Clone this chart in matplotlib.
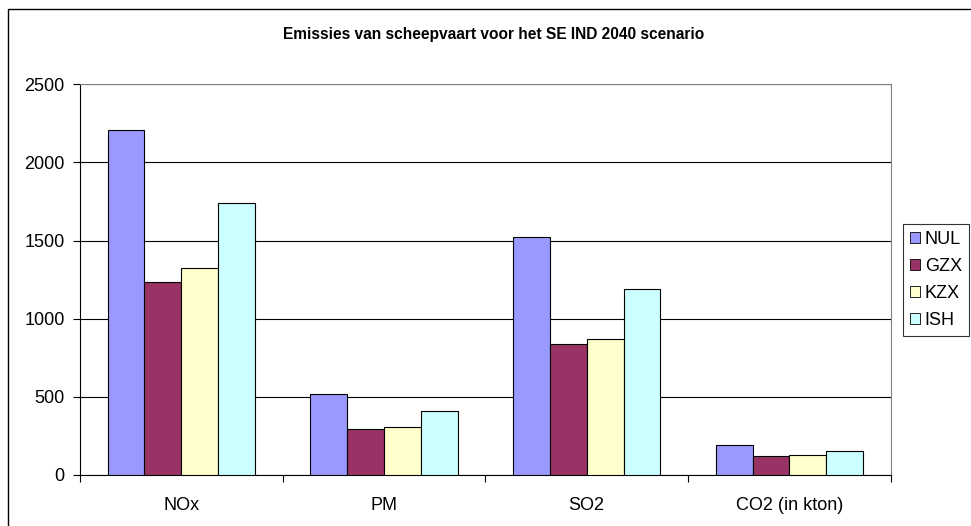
import matplotlib
matplotlib.use("Agg")
import matplotlib.pyplot as plt
from matplotlib.patches import Rectangle
import numpy as np

plt.rcParams['font.family'] = ['Liberation Sans', 'DejaVu Sans']

# Emissions per pollutant and scenario variant
categories = ["NOx", "PM", "SO2", "CO2 (in kton)"]
series_names = ["NUL", "GZX", "KZX", "ISH"]
nul = [2210, 520, 1525, 192]
gzx = [1236, 292, 838, 121]
kzx = [1323, 305, 868, 128]
ish = [1741, 411, 1190, 155]
y_ticks = [0, 500, 1000, 1500, 2000, 2500]

series_values = [nul, gzx, kzx, ish]
colors = ["#9999FF", "#993366", "#FFFFCC", "#CCFFFF"]

W, H = 971, 526
fig = plt.figure(figsize=(W / 100, H / 100), dpi=100)

# outer chart frame
fig.patches.append(Rectangle((8 / W, -0.1), 1.2, 1 - 9 / H + 0.1,
                             transform=fig.transFigure, fill=False,
                             edgecolor="black", linewidth=1.0))

left, right, top, bottom = 80, 890.7, 84.4, 474.7
ax = fig.add_axes([left / W, 1 - bottom / H, (right - left) / W, (bottom - top) / H])

n = len(series_names)
bw = 1.0 / (n + 1.5)
x = np.arange(len(categories))
for i, (name, vals, c) in enumerate(zip(series_names, series_values, colors)):
    offs = -0.5 + 0.75 * bw + i * bw
    ax.bar(x + offs, vals, width=bw, align="edge", color=c,
           edgecolor="black", linewidth=0.8, label=name, zorder=3)

ax.set_xlim(-0.5, len(categories) - 0.5)
ax.set_ylim(0, 2500)
ax.set_yticks(y_ticks)
ax.set_yticklabels([str(v) for v in y_ticks])
ax.yaxis.grid(True, color="black", linewidth=0.8, zorder=0)
ax.set_axisbelow(True)

# category boundaries as tick marks, labels centered between them
ax.set_xticks(np.arange(len(categories) + 1) - 0.5)
ax.set_xticklabels([])
ax.set_xticks(x, minor=True)
ax.set_xticklabels(categories, minor=True)
ax.tick_params(axis="x", which="major", length=5, width=0.8, direction="out")
ax.tick_params(axis="x", which="minor", length=0, pad=16, labelsize=13)
ax.tick_params(axis="y", length=5, width=0.8, pad=6, labelsize=13)

for s in ["left", "bottom"]:
    ax.spines[s].set_color("black")
    ax.spines[s].set_linewidth(0.8)
for s in ["top", "right"]:
    ax.spines[s].set_color("#808080")
    ax.spines[s].set_linewidth(0.8)

fig.text(494 / W, 1 - 35 / H, "Emissies van scheepvaart voor het SE IND 2040 scenario",
         ha="center", va="center", fontsize=11.2, fontweight="bold")

leg = fig.legend(loc="upper left", bbox_to_anchor=(903 / W, 1 - 224 / H),
                 fontsize=13, frameon=True, fancybox=False, edgecolor="black",
                 handlelength=0.55, handleheight=0.55, handletextpad=0.25,
                 labelspacing=0.55, borderpad=0.4, borderaxespad=0)
leg.get_frame().set_linewidth(0.8)
for h in leg.legend_handles:
    h.set_linewidth(0.6)

fig.savefig("out.png", dpi=100)
